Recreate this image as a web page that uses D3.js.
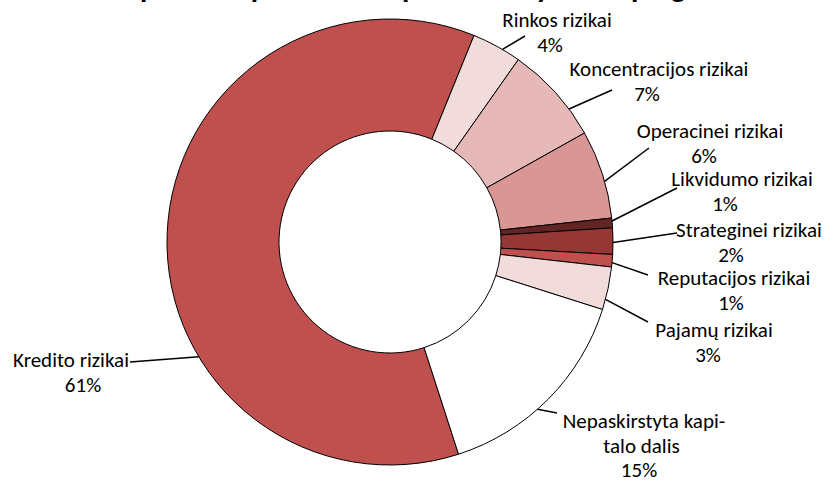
<!DOCTYPE html>
<html>
<head>
<meta charset="utf-8">
<script src="https://cdn.jsdelivr.net/npm/d3@7"></script>
<style>
    body { margin: 0; background: #fff; }
    text { font-family: Carlito, Calibri, Lato, sans-serif; fill: #000; }
</style>
</head>
<body>
<div id="chart"></div>
<script>
// data (share of capital requirement, %)
var categories = ["Kredito rizikai", "Rinkos rizikai", "Koncentracijos rizikai", "Operacinei rizikai",
    "Likvidumo rizikai", "Strateginei rizikai", "Reputacijos rizikai", "Pajamų rizikai",
    "Nepaskirstyta kapitalo dalis"];
var values = [61.0, 3.6, 7.1, 6.4, 0.7, 1.9, 0.9, 3.1, 15.1];
var labelLines = [["Kredito rizikai"], ["Rinkos rizikai"], ["Koncentracijos rizikai"], ["Operacinei rizikai"],
    ["Likvidumo rizikai"], ["Strateginei rizikai"], ["Reputacijos rizikai"], ["Pajamų rizikai"],
    ["Nepaskirstyta kapi-", "talo dalis"]];
var colours = ["#c0504d", "#f2dcdb", "#e6b9b8", "#d99694", "#632523", "#953735", "#c0504d", "#f2dcdb", "#ffffff"];
var titleText = "Kapitalo poreikio paskirstymas pagal rizikas";

// label placement: centre of name line, first baseline, centre of % line,
// leader end, and angle (deg) where the leader meets the ring
var labelLayout = [
    { x: 71, y: 367, px: 83, lx: 130, ly: 362, a: 239 },
    { x: 557, y: 27, px: 550, lx: 525, ly: 36, a: 30.3 },
    { x: 659, y: 76, px: 647, lx: 612, ly: 90, a: 53.4 },
    { x: 710, y: 138, px: 704, lx: 649, ly: 148, a: 74.2 },
    { x: 742, y: 186, px: 725, lx: 677, ly: 188, a: 84.6 },
    { x: 749, y: 237, px: 731, lx: 677, ly: 233, a: 90.1 },
    { x: 734, y: 285, px: 731, lx: 648, ly: 275, a: 95.3 },
    { x: 714, y: 337, px: 708, lx: 648, ly: 322, a: 104.9 },
    { x: 644, y: 428, px: 639, lx: 557, ly: 413, a: 138.6 }
];

var width = 827, height = 482;
var cx = 390, cy = 242, outerR = 223, innerR = 111;
var lineGap = 24.5;

var svg = d3.select("#chart").append("svg")
    .attr("width", width)
    .attr("height", height);

// title sits mostly above the frame, only descenders show
var title = svg.append("text")
    .attr("x", 0)
    .attr("y", -3)
    .style("font-weight", "bold")
    .style("font-size", "30px")
    .text(titleText);
var tnode = title.node();
var firstP = titleText.indexOf("p"), lastG = titleText.lastIndexOf("g");
var span = tnode.getStartPositionOfChar(lastG).x - tnode.getStartPositionOfChar(firstP).x;
title.style("letter-spacing", ((531 - span) / (lastG - firstP)) + "px");
title.attr("x", 140 - tnode.getStartPositionOfChar(firstP).x);

var total = d3.sum(values);
var startDeg = 162.1;
var pie = d3.pie().sort(null)
    .startAngle(startDeg * Math.PI / 180)
    .endAngle((startDeg + 360) * Math.PI / 180);
var arcs = pie(values);

var arc = d3.arc().innerRadius(innerR).outerRadius(outerR);

var g = svg.append("g").attr("transform", "translate(" + cx + "," + cy + ")");

g.selectAll("path")
    .data(arcs)
    .enter()
    .append("path")
    .attr("d", arc)
    .attr("fill", function (d, i) { return colours[i] })
    .attr("stroke", "#000")
    .attr("stroke-width", 1);

function ringPoint(i) {
    var a = labelLayout[i].a * Math.PI / 180;
    return [cx + outerR * Math.sin(a), cy - outerR * Math.cos(a)];
}

svg.selectAll("line.leader")
    .data(arcs)
    .enter()
    .append("line")
    .attr("class", "leader")
    .attr("x1", function (d, i) { return ringPoint(i)[0] })
    .attr("y1", function (d, i) { return ringPoint(i)[1] })
    .attr("x2", function (d, i) { return labelLayout[i].lx })
    .attr("y2", function (d, i) { return labelLayout[i].ly })
    .attr("stroke", "#000")
    .attr("stroke-width", 1.5);

var pct = d3.format(".0%");

var labels = svg.selectAll("g.label")
    .data(arcs)
    .enter()
    .append("g")
    .attr("class", "label")
    .style("font-size", "21px");

labels.each(function (d, i) {
    var L = labelLayout[i];
    var sel = d3.select(this);
    labelLines[i].forEach(function (t, k) {
        sel.append("text")
            .attr("x", L.x - (k * (L.x - L.px) / labelLines[i].length))
            .attr("y", L.y + k * lineGap)
            .attr("text-anchor", "middle")
            .text(t);
    });
    sel.append("text")
        .attr("x", L.px)
        .attr("y", L.y + labelLines[i].length * lineGap)
        .attr("text-anchor", "middle")
        .text(pct(d.data / total));
});
</script>
</body>
</html>
